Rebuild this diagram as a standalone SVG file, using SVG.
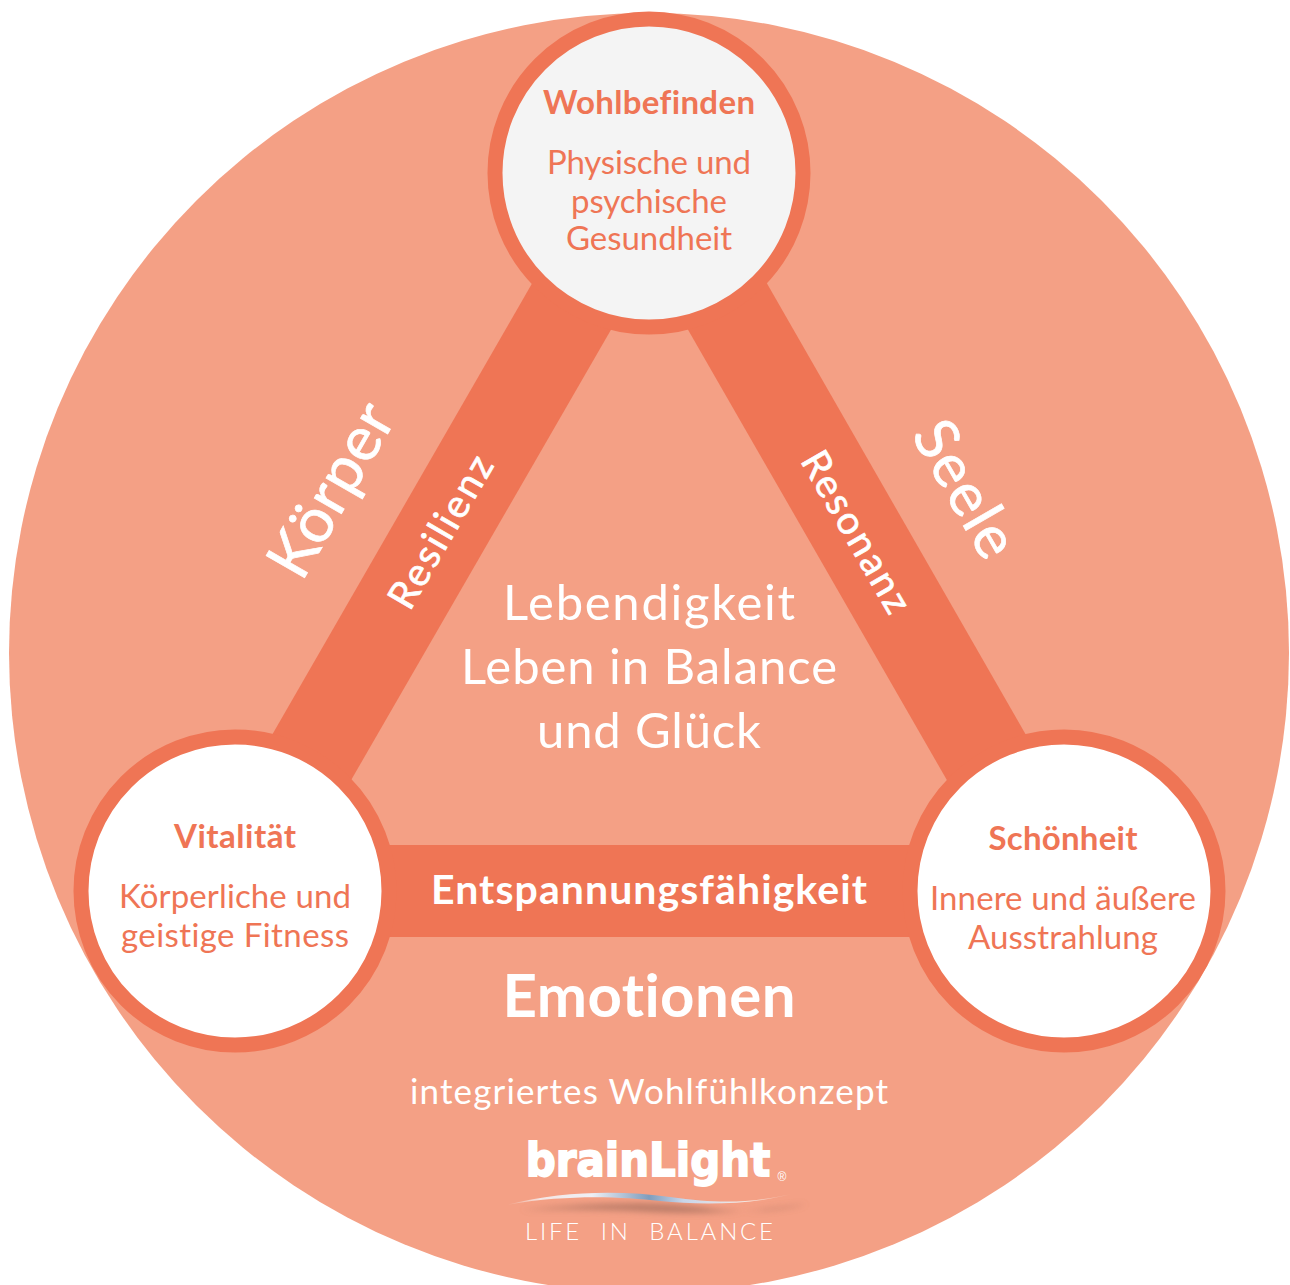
<svg xmlns="http://www.w3.org/2000/svg" width="1290" height="1285" viewBox="0 0 1290 1285">
<defs>
<linearGradient id="sw" x1="0" x2="1" y1="0" y2="0"><stop offset="0" stop-color="#f4a186"/><stop offset=".12" stop-color="#f4e6e4"/><stop offset=".3" stop-color="#eef0f6"/><stop offset=".5" stop-color="#7f9dbd"/><stop offset=".62" stop-color="#c8d6ea"/><stop offset=".85" stop-color="#f7e9e2"/><stop offset="1" stop-color="#f4a186"/></linearGradient>
<filter id="bl" x="-10%" y="-100%" width="120%" height="300%"><feGaussianBlur stdDeviation="3"/></filter>
</defs>
<style>
text{font-family:"Lato","Noto Sans",sans-serif;text-anchor:middle;font-variant-ligatures:none}
.w{fill:#fff}.o{fill:#ef7555}
.m{stroke:#fff;stroke-width:.7}
.c{stroke:#ef7555;stroke-width:15}
.t{font-size:33px}.h{font-size:33px;font-weight:700}
</style>
<rect width="1290" height="1285" fill="#fff"/>
<circle cx="649" cy="653" r="640" fill="#f4a085"/>
<g id="connectors" fill="#ef7555">
<polygon points="534,280 612,328 350,782 272,735"/>
<polygon points="765,280 687,328 948,782 1026,735"/>
<rect x="370" y="845" width="560" height="92"/>
</g>
<g id="wohlbefinden"><circle class="c" cx="649" cy="173" r="154" fill="#f4f4f4"/>
<text class="o h" x="649" y="114" textLength="212">Wohlbefinden</text>
<text class="o t" x="649" y="174" textLength="204">Physische und</text><text class="o t" x="649" y="213" textLength="156">psychische</text><text class="o t" x="649" y="250" textLength="166">Gesundheit</text></g>
<g id="vitalitaet"><circle class="c" cx="235" cy="891" r="154" fill="#fff"/>
<text class="o h" x="235" y="848" textLength="122">Vitalität</text>
<text class="o t" x="235" y="908" textLength="232">Körperliche und</text><text class="o t" x="235" y="947" textLength="228">geistige Fitness</text></g>
<g id="schoenheit"><circle class="c" cx="1064" cy="891" r="154" fill="#fff"/>
<text class="o h" x="1063" y="850" textLength="149">Schönheit</text>
<text class="o t" x="1063" y="910" textLength="266">Innere und äußere</text><text class="o t" x="1063" y="949" textLength="190">Ausstrahlung</text></g>
<g id="labels">
<text class="w m" font-size="62" transform="translate(331,490) rotate(-60)" y="21" textLength="190">Körper</text>
<text class="w m" font-size="60" transform="translate(965,489) rotate(60)" y="20" textLength="148">Seele</text>
<text class="w m" font-size="39" transform="translate(441,532) rotate(-60)" y="13" textLength="170">Resilienz</text>
<text class="w m" font-size="39" transform="translate(856,532) rotate(60)" y="13" textLength="180">Resonanz</text>
<text class="w" font-size="49" x="649" y="620" textLength="292">Lebendigkeit</text>
<text class="w" font-size="49" x="649" y="684" textLength="376">Leben in Balance</text>
<text class="w" font-size="49" x="649" y="748" textLength="224">und Glück</text>
<text class="w" font-size="41" font-weight="700" x="649" y="904" textLength="436">Entspannungsfähigkeit</text>
<text class="w" font-size="60" font-weight="700" x="649" y="1017" textLength="293">Emotionen</text>
<text class="w" font-size="35" x="649" y="1104" textLength="478">integriertes Wohlfühlkonzept</text>
</g>
<g id="logo">
<text transform="translate(648,1176) scale(1,1.12)" font-size="42" font-weight="700" style="font-family:'DejaVu Sans',sans-serif;fill:#fff;stroke:#fff;stroke-width:1.6">brainLight</text>
<text class="w" font-size="12" x="782" y="1181" style="font-family:'Liberation Sans',sans-serif">®</text>
<path d="M520 1210Q640 1198 700 1207T808 1204Q720 1216 650 1212T520 1210Z" fill="#a9715f" filter="url(#bl)" opacity=".75"/>
<path d="M506 1205C560 1191 620 1190 670 1197S750 1203 792 1194C750 1205 700 1205 660 1201S570 1194 506 1205Z" fill="url(#sw)"/>
<text class="w" font-size="24" x="649" y="1240" font-weight="300" textLength="248" xml:space="preserve">LIFE  IN  BALANCE</text>
</g>
</svg>
